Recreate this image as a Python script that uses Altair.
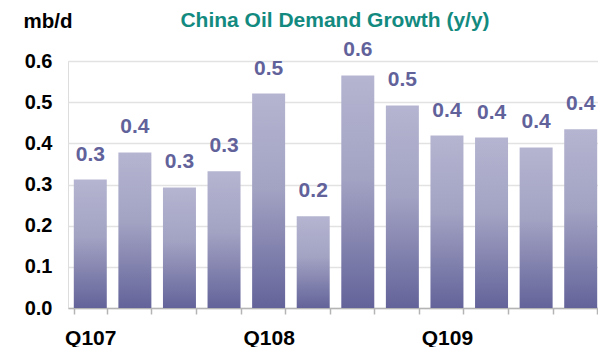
import altair as alt
import pandas as pd

quarters = ["Q107", "Q207", "Q307", "Q407",
            "Q108", "Q208", "Q308", "Q408",
            "Q109", "Q209", "Q309", "Q409"]
growth = [0.312, 0.378, 0.293, 0.332,
          0.521, 0.223, 0.565, 0.492,
          0.419, 0.414, 0.390, 0.434]
title_text = ["China Oil Demand Growth (y/y)"]

df = pd.DataFrame({"quarter": quarters, "growth": growth})
tdf = pd.DataFrame({"t": title_text})

FONT = "Liberation Sans"

xenc = alt.X("quarter:N", sort=quarters,
             scale=alt.Scale(range=[0, 535], paddingInner=0.26, paddingOuter=0.13),
             axis=alt.Axis(title=None, labelExpr="substring(datum.value, 0, 2) == 'Q1' ? datum.value : ''",
                           labelAngle=0, labelFont=FONT, labelFontSize=21, labelFontWeight="bold",
                           labelColor="#000000", labelPadding=13, tickBand="extent",
                           tickSize=6, tickColor="#b4b4b4", tickWidth=1.5,
                           domainColor="#b4b4b4", domainWidth=1.5, grid=False,
                           labelOverlap=False))

yenc = alt.Y("growth:Q",
             scale=alt.Scale(domain=[0, 0.6], nice=False),
             axis=alt.Axis(title="mb/d", titleAngle=0, titleAlign="left", titleBaseline="alphabetic",
                           titleX=-45, titleY=-34, titleFont=FONT, titleFontSize=20.5,
                           titleFontWeight="bold", titleColor="#000000",
                           values=[0, 0.1, 0.2, 0.3, 0.4, 0.5, 0.6], format=".1f",
                           labelFont=FONT, labelFontSize=20, labelFontWeight="bold",
                           labelColor="#000000", labelPadding=16, ticks=False, domain=False,
                           grid=True, gridColor="#e2e2e2", gridWidth=1.5))

grad = alt.LinearGradient(gradient="linear", x1=0, y1=0, x2=0, y2=1,
                          stops=[alt.GradientStop(color="#b5b5d1", offset=0),
                                 alt.GradientStop(color="#a2a2c3", offset=0.45),
                                 alt.GradientStop(color="#63639a", offset=1)])

bars = alt.Chart(df).mark_bar(color=grad, clip=True).encode(x=xenc, y=yenc)

labels = alt.Chart(df).mark_text(font=FONT, fontSize=21, fontWeight="bold", color="#62629b",
                                 baseline="alphabetic", dy=-19).encode(
    x=alt.X("quarter:N", sort=quarters),
    y=alt.Y("growth:Q"),
    text=alt.Text("growth:Q", format=".1f"))

title = alt.Chart(tdf).mark_text(font=FONT, fontSize=21, fontWeight="bold", color="#138a80",
                                 baseline="alphabetic", align="center").encode(
    x=alt.value(267), y=alt.value(-34), text="t:N")

chart = alt.layer(bars, labels, title).properties(
    width=530, height=247,
    autosize=alt.AutoSizeParams(type="none"),
    padding={"left": 68, "top": 61, "right": 0, "bottom": 39},
).configure_view(stroke=None).configure(background="white")

chart.save("out.html", embed_options={"renderer": "svg", "actions": False})
